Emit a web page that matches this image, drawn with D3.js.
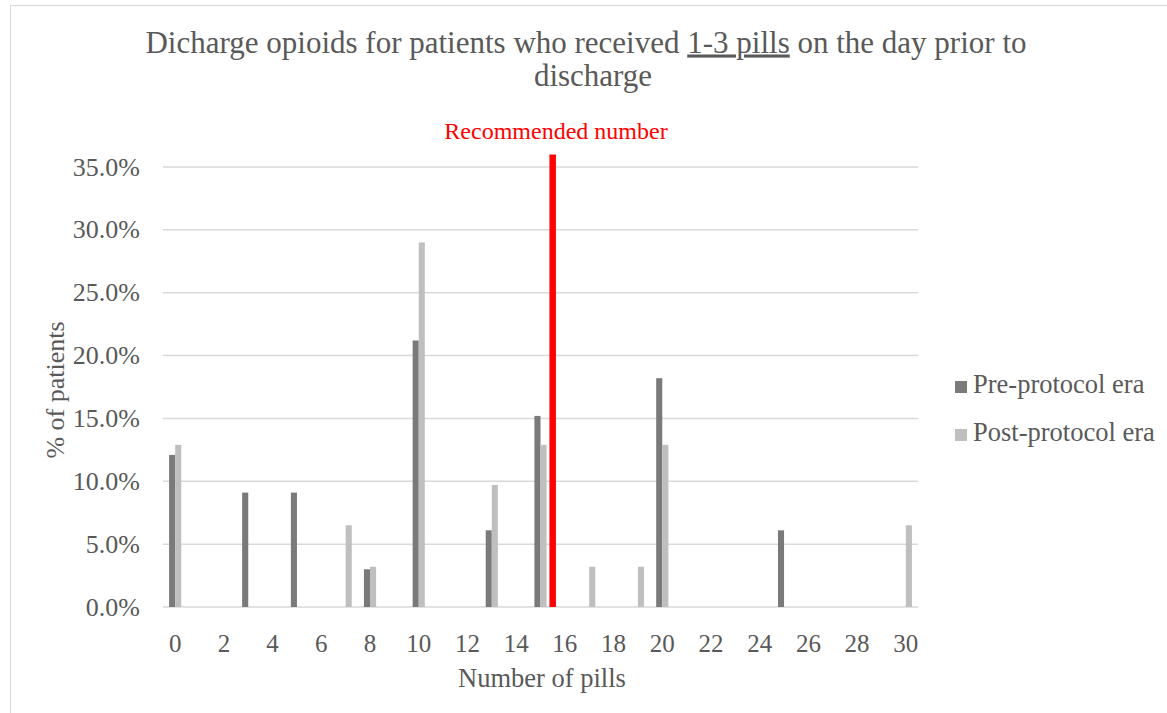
<!DOCTYPE html>
<html>
<head>
<meta charset="utf-8">
<script src="https://cdn.jsdelivr.net/npm/d3@7"></script>
<style>
html, body { margin: 0; padding: 0; background: #fff; }
svg { display: block; }
</style>
</head>
<body>
<svg id="chart" width="1167" height="713"></svg>
<script>
const categories = d3.range(0, 31);
const seriesNames = ["Pre-protocol era", "Post-protocol era"];
const preValues = [12.1,0,0,9.1,0,9.1,0,0,3.0,0,21.2,0,0,6.1,0,15.2,0,0,0,0,18.2,0,0,0,0,6.1,0,0,0,0,0];
const postValues = [12.9,0,0,0,0,0,0,6.5,3.2,0,29.0,0,0,9.7,0,12.9,0,3.2,0,3.2,12.9,0,0,0,0,0,0,0,0,0,6.5];
const yTicks = [0,5,10,15,20,25,30,35];
const xTickLabels = d3.range(0, 31, 2);
const recommended = 15.5;
const recommendedTop = 36;
const colors = ["#7a7a7a", "#bfbfbf"];

const FONT = '"Liberation Serif", "Times New Roman", Times, serif';
const TXT = "#595959";
const svg = d3.select("#chart");
function txt(sel) { return sel.attr("font-family", FONT).attr("fill", TXT); }

// outer frame
svg.append("rect").attr("x", 10.5).attr("y", 5.5).attr("width", 1200).attr("height", 800)
  .attr("fill", "none").attr("stroke", "#d9d9d9").attr("stroke-width", 1);

const x = d3.scaleBand().domain(categories).range([163, 918]).paddingInner(0.5).paddingOuter(0.25);
const xs = d3.scaleBand().domain([0,1]).range([0, x.bandwidth()]);
const y = d3.scaleLinear().domain([0, 35]).range([607, 167]);

// gridlines
svg.append("g").selectAll("line").data(yTicks).join("line")
  .attr("x1", 163).attr("x2", 918)
  .attr("y1", d => y(d)).attr("y2", d => y(d))
  .attr("stroke", "#d9d9d9").attr("stroke-width", 1.5);

// y labels
txt(svg.append("g").selectAll("text").data(yTicks).join("text"))
  .attr("x", 140).attr("y", d => y(d)).attr("dy", "0.33em")
  .attr("text-anchor", "end").attr("font-size", 26)
  .text(d => d3.format(".1f")(d) + "%");

// bars
const series = [preValues, postValues];
series.forEach((vals, si) => {
  svg.append("g").selectAll("rect").data(categories.filter(c => vals[c] > 0)).join("rect")
    .attr("x", c => x(c) + xs(si))
    .attr("width", xs.bandwidth())
    .attr("y", c => y(vals[c]))
    .attr("height", c => y(0) - y(vals[c]))
    .attr("fill", colors[si]);
});

// x labels
txt(svg.append("g").selectAll("text").data(xTickLabels).join("text"))
  .attr("x", d => x(d) + x.bandwidth() / 2).attr("y", 643).attr("dy", "0.35em")
  .attr("text-anchor", "middle").attr("font-size", 25)
  .text(d => d);

// recommended line
const rx = x(15) + x.bandwidth() / 2 + (recommended - 15) * x.step();
svg.append("line").attr("x1", rx).attr("x2", rx).attr("y1", y(recommendedTop)).attr("y2", y(0))
  .attr("stroke", "#ff0000").attr("stroke-width", 6.5);
svg.append("text").attr("x", 556).attr("y", 138.5)
  .attr("font-family", FONT).attr("fill", "#ff0000")
  .attr("text-anchor", "middle").attr("font-size", 24)
  .text("Recommended number");

// title
const title = txt(svg.append("text")).attr("x", 586).attr("y", 52.5)
  .attr("text-anchor", "middle").attr("font-size", 31);
title.append("tspan").text("Dicharge opioids for patients who received ");
title.append("tspan").attr("text-decoration", "underline").style("text-decoration", "underline").text("1-3 pills");
title.append("tspan").text(" on the day prior to");
txt(svg.append("text")).attr("x", 593).attr("y", 85.7)
  .attr("text-anchor", "middle").attr("font-size", 31).text("discharge");

// axis titles
txt(svg.append("text")).attr("x", 542).attr("y", 678).attr("dy", "0.35em")
  .attr("text-anchor", "middle").attr("font-size", 26.5).text("Number of pills");
txt(svg.append("text")).attr("transform", "translate(55,390) rotate(-90)").attr("dy", "0.35em")
  .attr("text-anchor", "middle").attr("font-size", 26).text("% of patients");

// legend
const lg = svg.append("g").attr("transform", "translate(955,0)");
seriesNames.forEach((n, i) => {
  const base = 393 + i * 48;
  lg.append("rect").attr("x", 0).attr("y", base - 12).attr("width", 12).attr("height", 12).attr("fill", colors[i]);
  txt(lg.append("text")).attr("x", 18).attr("y", base).attr("font-size", 26.5).text(n);
});
</script>
</body>
</html>
